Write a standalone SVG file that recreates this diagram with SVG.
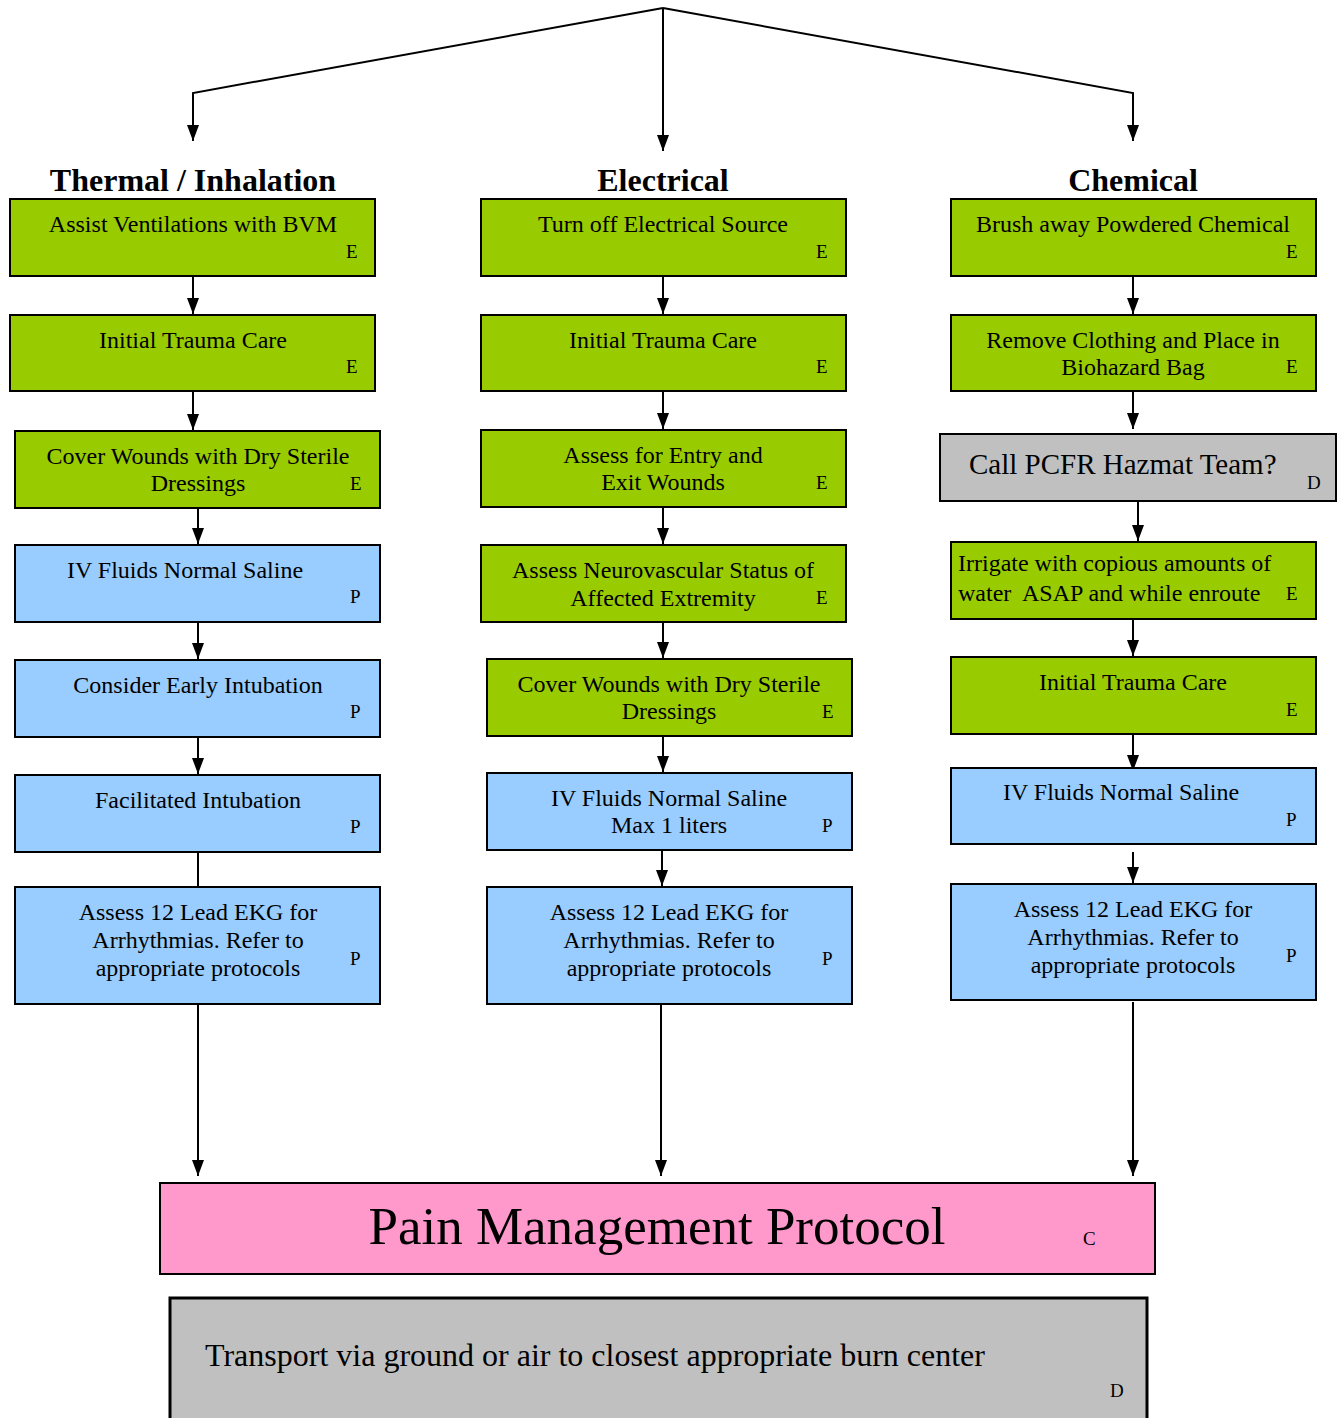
<svg xmlns="http://www.w3.org/2000/svg" width="1338" height="1418" viewBox="0 0 1338 1418">
<style>
.g{fill:#99cc00;stroke:#000;stroke-width:2}
.b{fill:#99ccff;stroke:#000;stroke-width:2}
.gr{fill:#c0c0c0;stroke:#000;stroke-width:2}
.pk{fill:#ff99cc;stroke:#000;stroke-width:2}
text{font-family:"Liberation Serif","Times New Roman",serif;fill:#000}
.t{font-size:24px;text-anchor:middle}
.tl{font-size:24px}
.c{font-size:19px}
.h{font-size:32px;font-weight:bold;text-anchor:middle}
.ln{fill:none;stroke:#000;stroke-width:2}
</style>
<defs>
<marker id="ah" viewBox="0 0 16 12" refX="16" refY="6" markerWidth="16" markerHeight="12" markerUnits="userSpaceOnUse" orient="auto">
<path d="M0,0 L16,6 L0,12 Z" fill="#000"/>
</marker>
</defs>
<rect width="1338" height="1418" fill="#fff"/>

<g id="connectors">
<polyline class="ln" points="663,8 193,93 193,141" marker-end="url(#ah)"/>
<line class="ln" x1="663" y1="8" x2="663" y2="151" marker-end="url(#ah)"/>
<polyline class="ln" points="663,8 1133,93 1133,141" marker-end="url(#ah)"/>

<line class="ln" x1="193" y1="277" x2="193" y2="314" marker-end="url(#ah)"/>
<line class="ln" x1="193" y1="392" x2="193" y2="430" marker-end="url(#ah)"/>
<line class="ln" x1="198" y1="509" x2="198" y2="544" marker-end="url(#ah)"/>
<line class="ln" x1="198" y1="623" x2="198" y2="659" marker-end="url(#ah)"/>
<line class="ln" x1="198" y1="738" x2="198" y2="774" marker-end="url(#ah)"/>
<line class="ln" x1="198" y1="848" x2="198" y2="887"/>
<line class="ln" x1="198" y1="1005" x2="198" y2="1176" marker-end="url(#ah)"/>

<line class="ln" x1="663" y1="277" x2="663" y2="314" marker-end="url(#ah)"/>
<line class="ln" x1="663" y1="392" x2="663" y2="429" marker-end="url(#ah)"/>
<line class="ln" x1="663" y1="508" x2="663" y2="544" marker-end="url(#ah)"/>
<line class="ln" x1="663" y1="623" x2="663" y2="658" marker-end="url(#ah)"/>
<line class="ln" x1="663" y1="737" x2="663" y2="772" marker-end="url(#ah)"/>
<line class="ln" x1="662" y1="851" x2="662" y2="886" marker-end="url(#ah)"/>
<line class="ln" x1="661" y1="1000" x2="661" y2="1176" marker-end="url(#ah)"/>

<line class="ln" x1="1133" y1="277" x2="1133" y2="314" marker-end="url(#ah)"/>
<line class="ln" x1="1133" y1="392" x2="1133" y2="429" marker-end="url(#ah)"/>
<line class="ln" x1="1138" y1="502" x2="1138" y2="541" marker-end="url(#ah)"/>
<line class="ln" x1="1133" y1="620" x2="1133" y2="656" marker-end="url(#ah)"/>
<line class="ln" x1="1133" y1="735" x2="1133" y2="771" marker-end="url(#ah)"/>
<line class="ln" x1="1133" y1="852" x2="1133" y2="883" marker-end="url(#ah)"/>
<line class="ln" x1="1133" y1="1002" x2="1133" y2="1176" marker-end="url(#ah)"/>
</g>

<g id="headings">
<text class="h" x="193" y="191">Thermal / Inhalation</text>
<text class="h" x="663" y="191">Electrical</text>
<text class="h" x="1133" y="191">Chemical</text>
</g>

<!-- Left column -->
<g id="t1"><rect class="g" x="10" y="199" width="365" height="77"/>
<text class="t" x="193" y="232">Assist Ventilations with BVM</text><text class="c" x="346" y="258">E</text></g>
<g id="t2"><rect class="g" x="10" y="315" width="365" height="76"/>
<text class="t" x="193" y="348">Initial Trauma Care</text><text class="c" x="346" y="373">E</text></g>
<g id="t3"><rect class="g" x="15" y="431" width="365" height="77"/>
<text class="t" x="198" y="464">Cover Wounds with Dry Sterile</text><text class="t" x="198" y="491">Dressings</text><text class="c" x="350" y="490">E</text></g>
<g id="t4"><rect class="b" x="15" y="545" width="365" height="77"/>
<text class="t" x="185" y="578">IV Fluids Normal Saline</text><text class="c" x="350" y="603">P</text></g>
<g id="t5"><rect class="b" x="15" y="660" width="365" height="77"/>
<text class="t" x="198" y="693">Consider Early Intubation</text><text class="c" x="350" y="718">P</text></g>
<g id="t6"><rect class="b" x="15" y="775" width="365" height="77"/>
<text class="t" x="198" y="808">Facilitated Intubation</text><text class="c" x="350" y="833">P</text></g>
<g id="t7"><rect class="b" x="15" y="887" width="365" height="117"/>
<text class="t" x="198" y="920">Assess 12 Lead EKG for</text><text class="t" x="198" y="948">Arrhythmias. Refer to</text><text class="t" x="198" y="976">appropriate protocols</text><text class="c" x="350" y="965">P</text></g>

<!-- Middle column -->
<g id="e1"><rect class="g" x="481" y="199" width="365" height="77"/>
<text class="t" x="663" y="232">Turn off Electrical Source</text><text class="c" x="816" y="258">E</text></g>
<g id="e2"><rect class="g" x="481" y="315" width="365" height="76"/>
<text class="t" x="663" y="348">Initial Trauma Care</text><text class="c" x="816" y="373">E</text></g>
<g id="e3"><rect class="g" x="481" y="430" width="365" height="77"/>
<text class="t" x="663" y="463">Assess for Entry and</text><text class="t" x="663" y="490">Exit Wounds</text><text class="c" x="816" y="489">E</text></g>
<g id="e4"><rect class="g" x="481" y="545" width="365" height="77"/>
<text class="t" x="663" y="578">Assess Neurovascular Status of</text><text class="t" x="663" y="606">Affected Extremity</text><text class="c" x="816" y="604">E</text></g>
<g id="e5"><rect class="g" x="487" y="659" width="365" height="77"/>
<text class="t" x="669" y="692">Cover Wounds with Dry Sterile</text><text class="t" x="669" y="719">Dressings</text><text class="c" x="822" y="718">E</text></g>
<g id="e6"><rect class="b" x="487" y="773" width="365" height="77"/>
<text class="t" x="669" y="806">IV Fluids Normal Saline</text><text class="t" x="669" y="833">Max 1 liters</text><text class="c" x="822" y="832">P</text></g>
<g id="e7"><rect class="b" x="487" y="887" width="365" height="117"/>
<text class="t" x="669" y="920">Assess 12 Lead EKG for</text><text class="t" x="669" y="948">Arrhythmias. Refer to</text><text class="t" x="669" y="976">appropriate protocols</text><text class="c" x="822" y="965">P</text></g>

<!-- Right column -->
<g id="c1"><rect class="g" x="951" y="199" width="365" height="77"/>
<text class="t" x="1133" y="232">Brush away Powdered Chemical</text><text class="c" x="1286" y="258">E</text></g>
<g id="c2"><rect class="g" x="951" y="315" width="365" height="76"/>
<text class="t" x="1133" y="348">Remove Clothing and Place in</text><text class="t" x="1133" y="375">Biohazard Bag</text><text class="c" x="1286" y="373">E</text></g>
<g id="c3"><rect class="gr" x="940" y="434" width="396" height="67"/>
<text x="969" y="474" style="font-size:29px">Call PCFR Hazmat Team?</text><text class="c" x="1307" y="489">D</text></g>
<g id="c4"><rect class="g" x="951" y="542" width="365" height="77"/>
<text class="tl" x="958" y="571">Irrigate with copious amounts of</text><text class="tl" x="958" y="601" xml:space="preserve">water  ASAP and while enroute</text><text class="c" x="1286" y="600">E</text></g>
<g id="c5"><rect class="g" x="951" y="657" width="365" height="77"/>
<text class="t" x="1133" y="690">Initial Trauma Care</text><text class="c" x="1286" y="716">E</text></g>
<g id="c6"><rect class="b" x="951" y="768" width="365" height="76"/>
<text class="t" x="1121" y="800">IV Fluids Normal Saline</text><text class="c" x="1286" y="826">P</text></g>
<g id="c7"><rect class="b" x="951" y="884" width="365" height="116"/>
<text class="t" x="1133" y="917">Assess 12 Lead EKG for</text><text class="t" x="1133" y="945">Arrhythmias. Refer to</text><text class="t" x="1133" y="973">appropriate protocols</text><text class="c" x="1286" y="962">P</text></g>

<!-- Bottom -->
<g id="pain"><rect class="pk" x="160" y="1183" width="995" height="91"/>
<text x="657" y="1244" style="font-size:53px;text-anchor:middle">Pain Management Protocol</text><text class="c" x="1083" y="1245">C</text></g>
<g id="transport"><rect class="gr" x="170" y="1298" width="977" height="130" style="stroke-width:3"/>
<text x="205" y="1366" style="font-size:32px">Transport via ground or air to closest appropriate burn center</text><text class="c" x="1110" y="1397">D</text></g>
</svg>
